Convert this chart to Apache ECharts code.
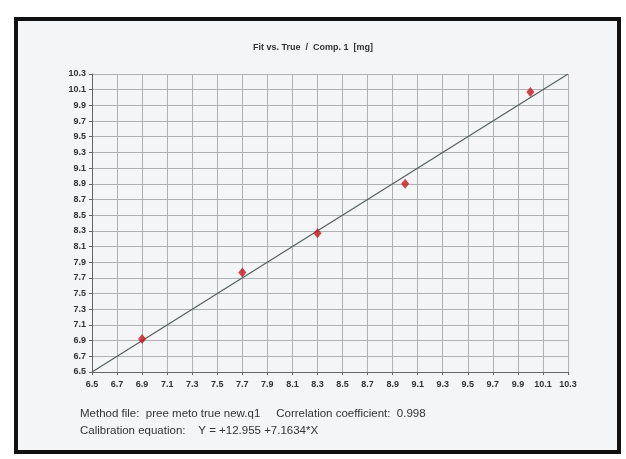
<!DOCTYPE html>
<html><head><meta charset="utf-8">
<script src="https://cdn.jsdelivr.net/npm/echarts@6/dist/echarts.min.js"></script>
<style>html,body{margin:0;padding:0;background:#fff}#c{width:626px;height:459px}</style>
</head><body><div id="c"></div>
<script>
const trueValues = [6.9, 7.7, 8.3, 9.0, 10.0];
const fitValues = [6.92, 7.77, 8.27, 8.9, 10.07];
const lineX = [6.5, 10.3];
const lineY = [6.5, 10.3];
const axisMin = 6.5, axisMax = 10.3, axisStep = 0.2;
const titleText = 'Fit vs. True  /  Comp. 1  [mg]';
const infoLine1 = 'Method file:  pree meto true new.q1     Correlation coefficient:  0.998';
const infoLine2 = 'Calibration equation:    Y = +12.955 +7.1634*X';

const chart = echarts.init(document.getElementById('c'), null, {renderer:'canvas'});
const font = 'Liberation Sans, Arial, sans-serif';
const axisCommon = {
  type:'value', min:axisMin, max:axisMax, interval:axisStep,
  axisLine:{show:true, lineStyle:{color:'#666', width:1}},
  axisTick:{show:true, length:3, lineStyle:{color:'#666'}},
  splitLine:{show:true, lineStyle:{color:'#aeb2b5', width:1}},
  axisLabel:{color:'#333', fontSize:9, fontWeight:'bold', fontFamily:font, formatter:v=>v.toFixed(1)}
};
chart.setOption({
  animation:false,
  backgroundColor:'#fff',
  graphic:[
    {type:'rect', z:-10, shape:{x:16, y:19, width:603, height:433}, style:{fill:'#f3f5f6', stroke:'#111', lineWidth:4}},
    {type:'text', left:80, top:408, style:{text:infoLine1, font:'11.5px '+font, fill:'#333'}},
    {type:'text', left:80, top:425, style:{text:infoLine2, font:'11.5px '+font, fill:'#333'}}
  ],
  title:{text:titleText, left:'center', top:38, textStyle:{fontSize:9, fontWeight:'bold', color:'#333', fontFamily:font}},
  grid:{left:92, right:58, top:74, bottom:87},
  xAxis:Object.assign({}, axisCommon, {axisLabel:Object.assign({}, axisCommon.axisLabel, {margin:8})}),
  yAxis:Object.assign({}, axisCommon, {axisLabel:Object.assign({}, axisCommon.axisLabel, {margin:6})}),
  series:[
    {type:'line', data:lineX.map((x,i)=>[x, lineY[i]]), symbol:'none', lineStyle:{color:'#55605a', width:1.2}, z:2},
    {type:'scatter', data:trueValues.map((x,i)=>[x, fitValues[i]]), symbol:'diamond', symbolSize:[8,10], itemStyle:{color:'#c8161b'}, z:3}
  ]
});
</script></body></html>
